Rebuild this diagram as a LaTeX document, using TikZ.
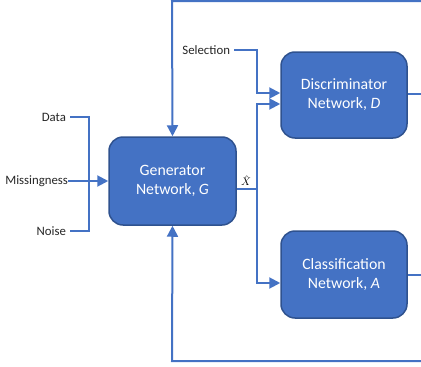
\documentclass[tikz,border=0pt]{standalone}
\usepackage{fontspec}
\setmainfont{Carlito}
\usetikzlibrary{arrows.meta}
\definecolor{boxblue}{HTML}{4472C4}
\definecolor{boxedge}{HTML}{2F528F}
\definecolor{labelgray}{HTML}{262626}
\tikzset{
  netbox/.style={draw=boxedge, line width=1.5pt, fill=boxblue, rounded corners=14pt,
    text=white, align=center, font=\fontsize{15.8}{19}\selectfont, inner sep=0pt},
  lbl/.style={text=labelgray, font=\fontsize{12.8}{15}\selectfont, inner sep=0pt},
  wire/.style={draw=boxblue, line width=2pt},
  arr/.style={wire, -{Triangle[length=11pt,width=11pt]}}
}
\begin{document}
\begin{tikzpicture}[x=1pt,y=-1pt]
\useasboundingbox (0,0) rectangle (421,367);
% boxes
\node[netbox, minimum width=127pt, minimum height=88pt] (G) at (172.5,181) {Generator\\Network, \textit{G}};
\node[netbox, minimum width=126pt, minimum height=86pt] (D) at (344,95) {Discriminator\\Network, \textit{D}};
\node[netbox, minimum width=126pt, minimum height=87pt] (A) at (344,274.5) {Classification\\Network, \textit{A}};
% labels
\node[lbl, anchor=east, outer xsep=4pt] (data) at (70,117) {Data};
\node[lbl, anchor=east, outer xsep=0pt] (miss) at (68,181) {Missingness};
\node[lbl, anchor=east, outer xsep=4pt] (noise) at (70,231) {Noise};
\node[lbl, anchor=east, outer xsep=4pt] (sel) at (234,50) {Selection};
\node[font=\fontsize{11}{12}\selectfont, inner sep=0pt, anchor=south] (xh) at (246,186) {$\hat{X}$};
% coordinates
\coordinate (tr) at (421,1);
\coordinate (tl) at (172,1);
\coordinate (br) at (421,361);
\coordinate (bl) at (172,361);
\coordinate (dr) at (421,94);
\coordinate (ar) at (421,275);
\coordinate (jx) at (257,189);
% inputs to G
\draw[wire] (data.east) -- (89,117) -- (89,231) -- (noise.east);
\draw[arr] (miss.east) -- (G.west |- miss.east);
% feedback loops
\draw[arr] (tr) -- (tl) -- (G.north);
\draw[arr] (br) -- (bl) -- (G.south);
% outputs
\draw[wire] (D.east |- dr) -- (dr);
\draw[wire] (A.east |- ar) -- (ar);
% selection
\draw[arr] (sel.east) -- (257,50) -- (257,93) -- (D.west |- 0,93);
% X hat
\draw[wire] (G.east |- jx) -- (jx);
\draw[arr] (jx) -- (257,104) -- (D.west |- 0,104);
\draw[arr] (jx) -- (257,283) -- (A.west |- 0,283);
\end{tikzpicture}
\end{document}
